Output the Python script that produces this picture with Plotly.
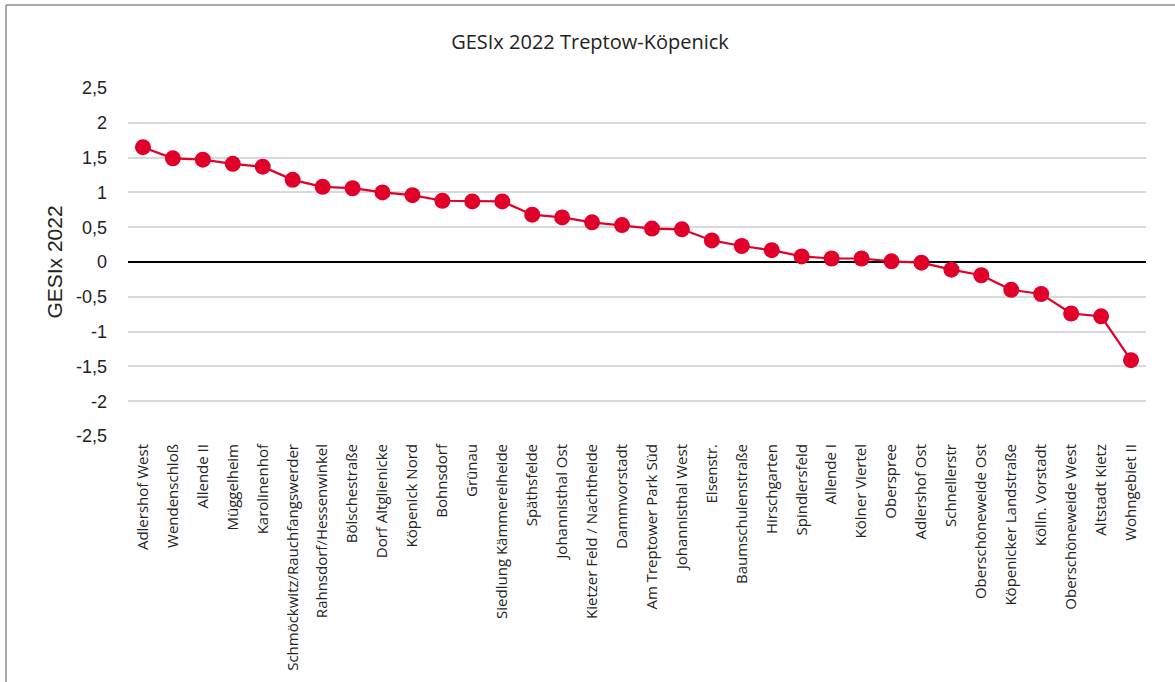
import plotly.graph_objects as go

# GESIx 2022 scores for the planning areas of Treptow-Köpenick, sorted descending
areas = [
    "Adlershof West", "Wendenschloß", "Allende II", "Müggelheim", "Karolinenhof",
    "Schmöckwitz/Rauchfangswerder", "Rahnsdorf/Hessenwinkel", "Bölschestraße",
    "Dorf Altglienicke", "Köpenick Nord", "Bohnsdorf", "Grünau",
    "Siedlung Kämmereiheide", "Späthsfelde", "Johannisthal Ost",
    "Kietzer Feld / Nachtheide", "Dammvorstadt", "Am Treptower Park Süd",
    "Johannisthal West", "Elsenstr.", "Baumschulenstraße", "Hirschgarten",
    "Spindlersfeld", "Allende I", "Kölner Viertel", "Oberspree", "Adlershof Ost",
    "Schnellerstr", "Oberschöneweide Ost", "Köpenicker Landstraße",
    "Kölln. Vorstadt", "Oberschöneweide West", "Altstadt Kietz", "Wohngebiet II",
]
gesix = [
    1.65, 1.49, 1.47, 1.41, 1.37,
    1.18, 1.08, 1.06,
    1.00, 0.96, 0.88, 0.87,
    0.87, 0.68, 0.64,
    0.57, 0.53, 0.48,
    0.47, 0.31, 0.23, 0.17,
    0.08, 0.05, 0.05, 0.01, -0.01,
    -0.11, -0.19, -0.40,
    -0.46, -0.74, -0.78, -1.41,
]
y_ticks = [2.5, 2, 1.5, 1, 0.5, 0, -0.5, -1, -1.5, -2, -2.5]
y_tick_text = [f"{v:g}".replace(".", ",") for v in y_ticks]

RED = "#e0002a"
FONT = "'Open Sans', 'Noto Sans', sans-serif"
SANS = "'Liberation Sans', Arial, sans-serif"

# plot area in pixels
W, H = 1175, 682
L, R, T, B = 128, 29, 88, 246
PW, PH = W - L - R, H - T - B

fig = go.Figure(
    go.Scatter(
        x=areas,
        y=gesix,
        mode="lines+markers",
        line=dict(color=RED, width=2.2),
        marker=dict(color=RED, size=16),
        showlegend=False,
    )
)

fig.update_layout(
    width=W,
    height=H,
    margin=dict(l=L, r=R, t=T, b=B),
    paper_bgcolor="white",
    plot_bgcolor="white",
    font=dict(family=FONT, color="#222222", size=14),
    title=dict(
        text="GESIx 2022 Treptow-Köpenick",
        x=590 / W,
        xanchor="center",
        xref="container",
        y=1 - 42 / H,
        yref="container",
        yanchor="middle",
        font=dict(size=20, color="#222222"),
    ),
    xaxis=dict(
        type="category",
        tickangle=-90,
        tickfont=dict(size=15),
        showgrid=False,
        showline=False,
        ticks="",
        zeroline=False,
        range=[-0.5, len(areas) - 0.5],
        ticklabelstandoff=4,
    ),
    yaxis=dict(
        range=[-2.5, 2.5],
        tickvals=y_ticks,
        ticktext=y_tick_text,
        tickfont=dict(size=18, family=SANS),
        showgrid=True,
        gridcolor="#d9d9d9",
        gridwidth=1.5,
        zeroline=True,
        zerolinecolor="#000000",
        zerolinewidth=1.8,
        ticks="",
        ticklabelstandoff=20,
        title=dict(text="GESIx 2022", font=dict(size=21, family=SANS), standoff=7),
    ),
    shapes=[
        # frame: top and left edges
        dict(type="line", xref="paper", yref="paper",
             x0=(6 - L) / PW, x1=(W + 1 - L) / PW,
             y0=(T + PH - 5) / PH, y1=(T + PH - 5) / PH,
             line=dict(color="#8c8c8c", width=1.5)),
        dict(type="line", xref="paper", yref="paper",
             x0=(6 - L) / PW, x1=(6 - L) / PW,
             y0=(T + PH - 5) / PH, y1=(T + PH - 690) / PH,
             line=dict(color="#8c8c8c", width=1.5)),
    ],
)

fig.write_html("out.html")
